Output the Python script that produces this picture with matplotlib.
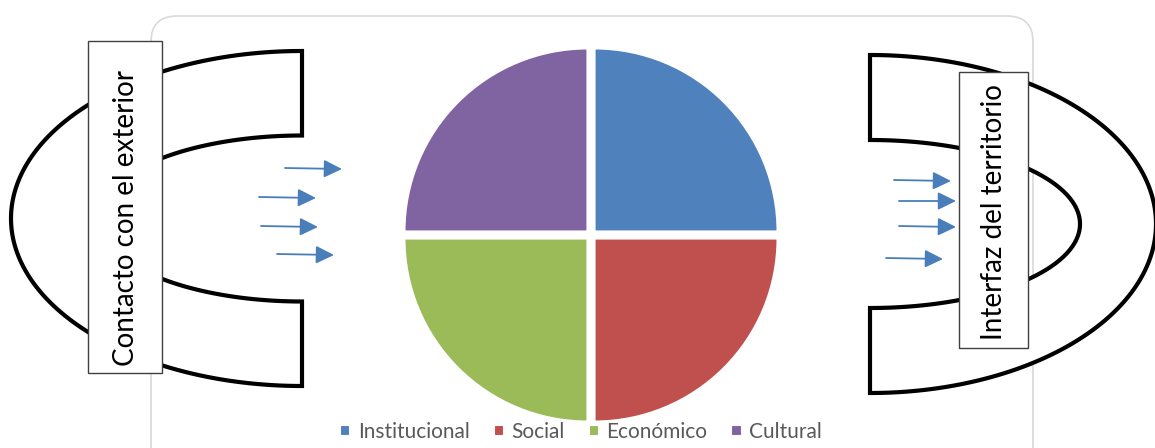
import numpy as np
import matplotlib.pyplot as plt
from matplotlib.patches import FancyBboxPatch, Rectangle, Polygon

# pie data
labels = ['Institucional', 'Social', 'Económico', 'Cultural']
values = [25, 25, 25, 25]
colors = ['#4f81bd', '#c0504d', '#9bbb59', '#8064a2']

W, H = 1155, 448
FONT = 'Lato'

fig = plt.figure(figsize=(11.55, 4.48), dpi=100)
ax = fig.add_axes([0, 0, 1, 1])


def Y(y):
    # pixel row (from top) -> data y
    return H - y


# rounded chart area
area = FancyBboxPatch((151, Y(470)), 1033 - 151, 470 - 16,
                      boxstyle='round,pad=0,rounding_size=26',
                      facecolor='white', edgecolor='#d9d9d9', lw=1.2, zorder=0)
ax.add_patch(area)

wedges, _ = ax.pie(values, colors=colors, startangle=90, counterclock=False,
                   center=(591, Y(235)), radius=183, explode=[5] * 4,
                   wedgeprops=dict(edgecolor='white', linewidth=1.5),
                   frame=True)
for w in wedges:
    w.set_zorder(1)


def magnet(cx, cy, a_out, b_out, a_in, b_in, side):
    if side == 'left':
        t = np.radians(np.linspace(90, 270, 200))
    else:
        t = np.radians(np.linspace(90, -90, 200))
    outer = np.column_stack([cx + a_out * np.cos(t), Y(cy - b_out * np.sin(t))])
    inner = np.column_stack([cx + a_in * np.cos(t[::-1]), Y(cy - b_in * np.sin(t[::-1]))])
    pts = np.vstack([outer, inner])
    ax.add_patch(Polygon(pts, closed=True, facecolor='white', edgecolor='black',
                         lw=3.0, joinstyle='miter', zorder=2))


magnet(302, 218.5, 291, 167.5, 204, 83, 'left')
magnet(870, 224, 286, 169, 210, 84, 'right')

# text boxes
ax.add_patch(Rectangle((88, Y(373)), 162 - 88, 373 - 41, facecolor='white',
                       edgecolor='#404040', lw=1.0, zorder=3))
ax.add_patch(Rectangle((959, Y(348)), 1028 - 959, 348 - 72, facecolor='white',
                       edgecolor='#404040', lw=1.0, zorder=3))
ax.text(126, Y(218), 'Contacto con el exterior', rotation=90, ha='center', va='center',
        fontsize=20, family=FONT, color='black', zorder=4)
ax.text(994, Y(212), 'Interfaz del territorio', rotation=90, ha='center', va='center',
        fontsize=20, family=FONT, color='black', zorder=4)

# arrows (tail x, tail y, head x, head y)
arrows = [(285, 168, 342, 169), (259, 197, 316, 198), (261, 226, 318, 227), (277, 254, 334, 255),
          (894, 180, 951, 181), (899, 201, 956, 201), (899, 226, 956, 227), (886, 258, 943, 259)]
for x0, y0, x1, y1 in arrows:
    ax.annotate('', xy=(x1, Y(y1)), xytext=(x0, Y(y0)),
                arrowprops=dict(arrowstyle='-|>,head_length=0.55,head_width=0.27',
                                color='#4a7ebb', lw=1.3,
                                mutation_scale=20, shrinkA=0, shrinkB=0), zorder=5)

leg = ax.legend(wedges, labels, ncol=4, loc='center', bbox_to_anchor=(0.503, 0.036),
                frameon=False, handlelength=0.5, handleheight=0.5, handletextpad=0.35,
                columnspacing=1.15, prop={'family': FONT, 'size': 15})
for t in leg.get_texts():
    t.set_color('#595959')

ax.set_xlim(0, W)
ax.set_ylim(0, H)
ax.set_aspect('auto')
ax.axis('off')

fig.savefig('out.png', dpi=100)
